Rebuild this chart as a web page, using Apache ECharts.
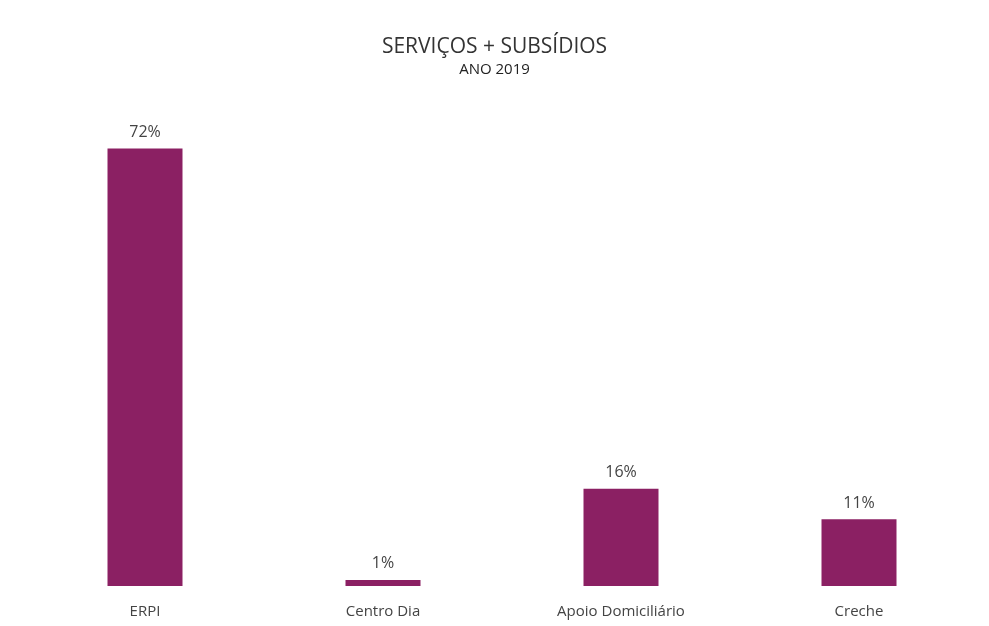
<!DOCTYPE html>
<html><head><meta charset="utf-8">
<script src="https://cdn.jsdelivr.net/npm/echarts@6/dist/echarts.min.js"></script>
<style>html,body{margin:0;padding:0;background:#fff}#c{width:989px;height:626px}</style>
</head><body><div id="c"></div>
<script>
const categories = ['ERPI', 'Centro Dia', 'Apoio Domiciliário', 'Creche'];
const values = [72, 1, 16, 11];
const chart = echarts.init(document.getElementById('c'));
chart.setOption({
  backgroundColor: '#fff',
  title: {
    text: 'SERVIÇOS + SUBSÍDIOS', subtext: 'ANO 2019', left: 'center', top: 32, itemGap: 4,
    textStyle: { fontFamily: 'Open Sans', fontSize: 21, fontWeight: 'normal', color: '#333' },
    subtextStyle: { fontFamily: 'Open Sans', fontSize: 15, color: '#222' }
  },
  grid: { left: 26, right: 11, top: 100, bottom: 40 },
  xAxis: {
    type: 'category', data: categories,
    axisLine: { show: false }, axisTick: { show: false },
    axisLabel: { fontFamily: 'Open Sans', fontSize: 15, color: '#444', margin: 18 }
  },
  yAxis: { type: 'value', min: 0, max: 80, show: false, splitLine: { show: false } },
  series: [{
    type: 'bar', data: values, barWidth: 75,
    itemStyle: { color: '#8B2063' },
    label: { show: true, position: 'top', distance: 8, formatter: '{c}%', fontFamily: 'Open Sans', fontSize: 16, color: '#444' }
  }]
});
</script></body></html>
